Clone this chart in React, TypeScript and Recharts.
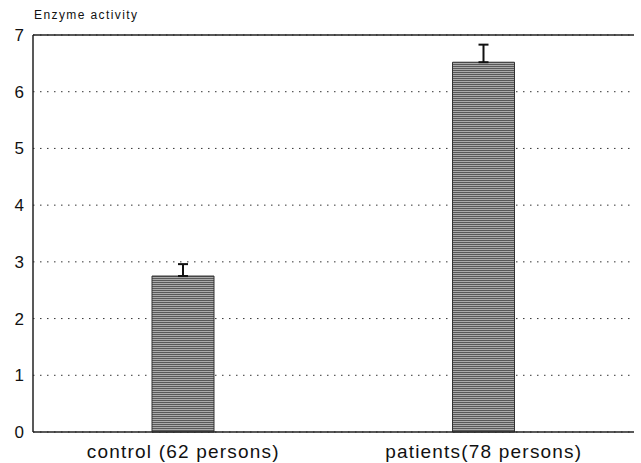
import { Bar, BarChart, CartesianGrid, ErrorBar, ReferenceLine, XAxis, YAxis } from 'recharts';

const groups = ['control (62 persons)', 'patients(78 persons)'];
const activity = [2.75, 6.52];
const spreadUp = [0.21, 0.31];
const yTicks = [0, 1, 2, 3, 4, 5, 6, 7];

const rows = groups.map((name, i) => ({ name, activity: activity[i], spread: [0, spreadUp[i]] }));

const font = 'Arial, "Liberation Sans", Helvetica, sans-serif';

export default function App() {
  return (
    <div style={{ position: 'absolute', left: 0, top: 0, width: 641, height: 463, background: '#fff' }}>
      <div
        style={{
          position: 'absolute',
          left: 34,
          top: 8,
          fontFamily: font,
          fontSize: 12,
          letterSpacing: 1.4,
          lineHeight: '14px',
          color: '#111',
        }}
      >
        Enzyme activity
      </div>
      <BarChart width={641} height={463} data={rows} margin={{ top: 35, right: 7, bottom: 0, left: 0 }}>
        <defs>
          <pattern id="stripes" width="4" height="2" patternUnits="userSpaceOnUse">
            <rect width="4" height="2" fill="#ababab" />
            <rect width="4" height="1" fill="#595959" />
          </pattern>
        </defs>
        <CartesianGrid yAxisId="left" vertical={false} stroke="#333" strokeDasharray="1.5 5.5" />
        <ReferenceLine y={7} yAxisId="left" stroke="#222" strokeWidth={1.5} />
        <XAxis
          dataKey="name"
          height={31}
          tickLine={false}
          axisLine={{ stroke: '#222', strokeWidth: 1.5 }}
          tick={{ fill: '#111', fontSize: 19, fontFamily: font, letterSpacing: 1.2 }}
          tickMargin={7}
        />
        <YAxis
          yAxisId="left"
          domain={[0, 7]}
          ticks={yTicks}
          width={33}
          tickLine={false}
          axisLine={{ stroke: '#222', strokeWidth: 1.5 }}
          tick={{ fill: '#111', fontSize: 17, fontFamily: font }}
          tickMargin={3}
        />
        <YAxis
          yAxisId="right"
          orientation="right"
          domain={[0, 7]}
          width={0}
          tick={false}
          tickLine={false}
          axisLine={{ stroke: '#222', strokeWidth: 1.5 }}
        />
        <Bar dataKey="activity" yAxisId="left" barSize={62} fill="url(#stripes)" stroke="#333" isAnimationActive={false}>
          <ErrorBar dataKey="spread" width={5} stroke="#111" strokeWidth={2} />
        </Bar>
      </BarChart>
    </div>
  );
}
